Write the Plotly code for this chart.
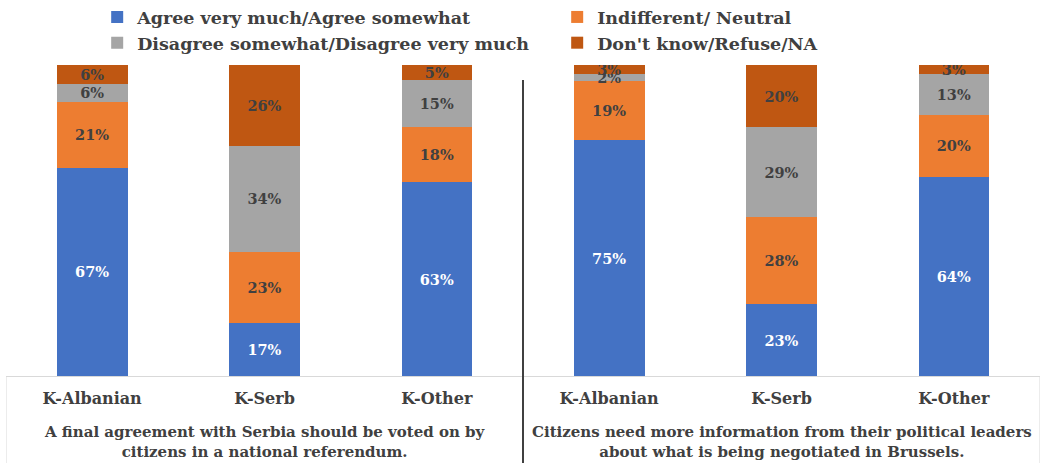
import plotly.graph_objects as go

groups = ["A final agreement with Serbia should be voted on by<br>citizens in a national referendum.",
          "Citizens need more information from their political leaders<br>about what is being negotiated in Brussels."]
categories = ["K-Albanian", "K-Serb", "K-Other"]

series_names = ["Agree very much/Agree somewhat", "Indifferent/ Neutral",
                "Disagree somewhat/Disagree very much", "Don't know/Refuse/NA"]
agree = [67, 17, 63, 75, 23, 64]
neutral = [21, 23, 18, 19, 28, 20]
disagree = [6, 34, 15, 2, 29, 13]
dontknow = [6, 26, 5, 3, 20, 3]

colors = ["#4472C4", "#ED7D31", "#A5A5A5", "#BF5712"]
text_colors = ["#FFFFFF", "#404040", "#404040", "#404040"]

FONT = "DejaVu Serif"
TXT = "#404040"
x_cat = categories * len(groups)
x_pos = list(range(len(x_cat)))

fig = go.Figure()
for name, vals, col, tcol in zip(series_names, [agree, neutral, disagree, dontknow], colors, text_colors):
    fig.add_trace(go.Bar(
        x=x_pos, y=vals, name=name,
        marker=dict(color=col, line=dict(width=0)),
        text=[f"{v}%" for v in vals], textposition="inside",
        insidetextanchor="middle", textangle=0,
        textfont=dict(family=FONT, size=14.5, color=tcol, weight="bold"),
        hoverinfo="skip",
    ))

fig.update_layout(
    barmode="stack", barnorm="percent", bargap=0.59,
    width=1045, height=463,
    margin=dict(l=6, r=5, t=65, b=87, autoexpand=False),
    plot_bgcolor="white", paper_bgcolor="white",
    uniformtext=dict(minsize=14.5, mode="show"),
    font=dict(family=FONT, size=14, color=TXT, weight="bold"),
    legend=dict(orientation="h", x=0.093, y=1.212, xanchor="left", yanchor="top",
                xref="container", yref="paper",
                entrywidth=415, entrywidthmode="pixels",
                font=dict(family=FONT, size=17.5, color=TXT, weight="bold"),
                itemwidth=30, traceorder="normal", bgcolor="rgba(0,0,0,0)"),
    showlegend=True,
)
fig.update_xaxes(range=[-0.5, len(x_cat) - 0.5], tickvals=x_pos, ticktext=x_cat,
                 showline=True, linecolor="#D9D9D9", linewidth=1,
                 tickfont=dict(family=FONT, size=16, color=TXT, weight="bold"),
                 ticks="", ticklabelstandoff=8, showgrid=False, zeroline=False)
fig.update_yaxes(visible=False, range=[0, 100])

# group labels
for i, g in enumerate(groups):
    center = (len(categories) - 1) / 2 + i * len(categories)
    fig.add_annotation(x=center, xref="x", y=-0.212, yref="paper", text=g, showarrow=False,
                       yanchor="middle", xanchor="center",
                       font=dict(family=FONT, size=15, color=TXT, weight="bold"))

# group dividers below axis
for b in [-0.5, len(categories) - 0.5, len(x_cat) - 0.5]:
    fig.add_shape(type="line", xref="x", yref="paper", x0=b, x1=b, y0=-0.3, y1=0,
                  line=dict(color="#D9D9D9", width=1))

# dark separator between the two statements
fig.add_shape(type="line", xref="x", yref="paper", x0=len(categories) - 0.5, x1=len(categories) - 0.5,
              y0=-0.3, y1=0.952, line=dict(color="#404040", width=2))

fig.write_html("out.html")
